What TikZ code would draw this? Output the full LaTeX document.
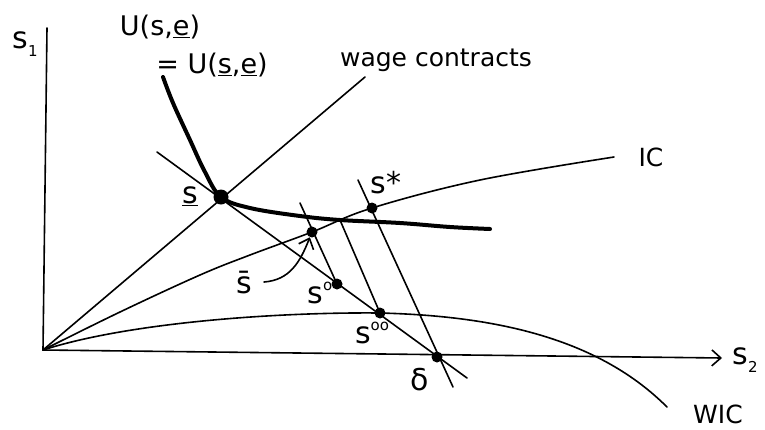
\documentclass[tikz,border=0pt]{standalone}
\usepackage{fontspec}
\setmainfont{DejaVu Sans}
\usetikzlibrary{arrows.meta}
\tikzset{
  thinline/.style={line width=1.6pt, line cap=round, line join=round},
  thickcurve/.style={line width=4pt, line cap=round, line join=round},
  dot/.style={circle, fill=black, inner sep=0pt, minimum size=11pt},
  bigdot/.style={circle, fill=black, inner sep=0pt, minimum size=15pt},
  lbl/.style={inner sep=1pt, font=\fontsize{30}{32}\selectfont},
  ulbl/.style={inner sep=1pt, font=\fontsize{27}{29}\selectfont},
  mlbl/.style={inner sep=1pt, font=\fontsize{25}{27}\selectfont},
  barb/.style={-{Straight Barb[length=9pt,width=16pt,line width=1.6pt]}}
}
\begin{document}
\begin{tikzpicture}[x=1pt,y=-1pt]
\useasboundingbox (0,0) rectangle (765,429);
% key points
\coordinate (O) at (43,350);
\coordinate (Ytop) at (47,28);
\coordinate (Xend) at (722,358);
\coordinate (Wend) at (365,77);
\coordinate (A1) at (157,152);
\coordinate (A2) at (467,378);
\coordinate (B1) at (358,180);
\coordinate (B2) at (453,387);
\coordinate (C1) at (300,203);
\coordinate (D1) at (340,220);
% axes
\draw[thinline] (O) -- (Ytop);
\draw[thinline, barb] (O) -- (Xend);
% wage contracts ray
\draw[thinline] (O) -- (Wend);
% IC curve
\draw[thinline] plot[smooth, tension=0.6] coordinates {(43,350) (120,312) (200,275) (250,255) (312,232) (372,208) (480,180) (614,157)};
% WIC curve
\draw[thinline] (O) .. controls (130,322) and (280,312) .. (380,313)
                    .. controls (500,316) and (600,340) .. (667,407);
% thick U curve
\draw[thickcurve] plot[smooth, tension=0.6] coordinates {(163,77) (173,103) (190,140) (205,172) (221,197) (250,208) (300,216) (340,220) (400,223) (450,227) (490,229)};
% straight lines
\draw[thinline] (A1) -- (A2);
\draw[thinline] (B1) -- (B2);
% dots
\node[bigdot] (S) at (221,197) {};
\node[dot] (sbar) at (312,232) {};
\node[dot] (so) at (337,284) {};
\node[dot] (soo) at (380,313) {};
\node[dot] (sstar) at (372,208) {};
\node[dot] (delta) at (437,357) {};
\draw[thinline] (C1) -- (so.center);
\draw[thinline] (D1) -- (soo.center);
% labels
\node[lbl] (ls1) at (25,44) {s\raisebox{-0.25em}{\fontsize{15}{15}\selectfont 1}};
\node[lbl] (ls2) at (745,360) {s\raisebox{-0.25em}{\fontsize{15}{15}\selectfont 2}};
\node[ulbl] (lU1) at (160,27) {U(s,\underline{e})};
\node[ulbl] (lU2) at (212,65) {= U(\underline{s},\underline{e})};
\node[mlbl] (lwage) at (436,60) {wage contracts};
\node[mlbl] (lIC) at (651,157) {IC};
\node[mlbl] (lWIC) at (718,414) {WIC};
\node[lbl] (lS) at (190,196) {\underline{s}};
\node[lbl] (lsbar) at (244,283) {s̄};
\node[lbl] (lso) at (320,293) {s\raisebox{0.45em}{\fontsize{15}{15}\selectfont o}};
\node[lbl] (lsoo) at (372,333) {s\raisebox{0.45em}{\fontsize{15}{15}\selectfont oo}};
\node[lbl] (lsstar) at (386,183) {s*};
\node[lbl] (ldelta) at (420,380) {δ};
\draw[thinline, barb] (264,282) .. controls (290,280) and (300,262) .. (sbar);
\end{tikzpicture}
\end{document}
